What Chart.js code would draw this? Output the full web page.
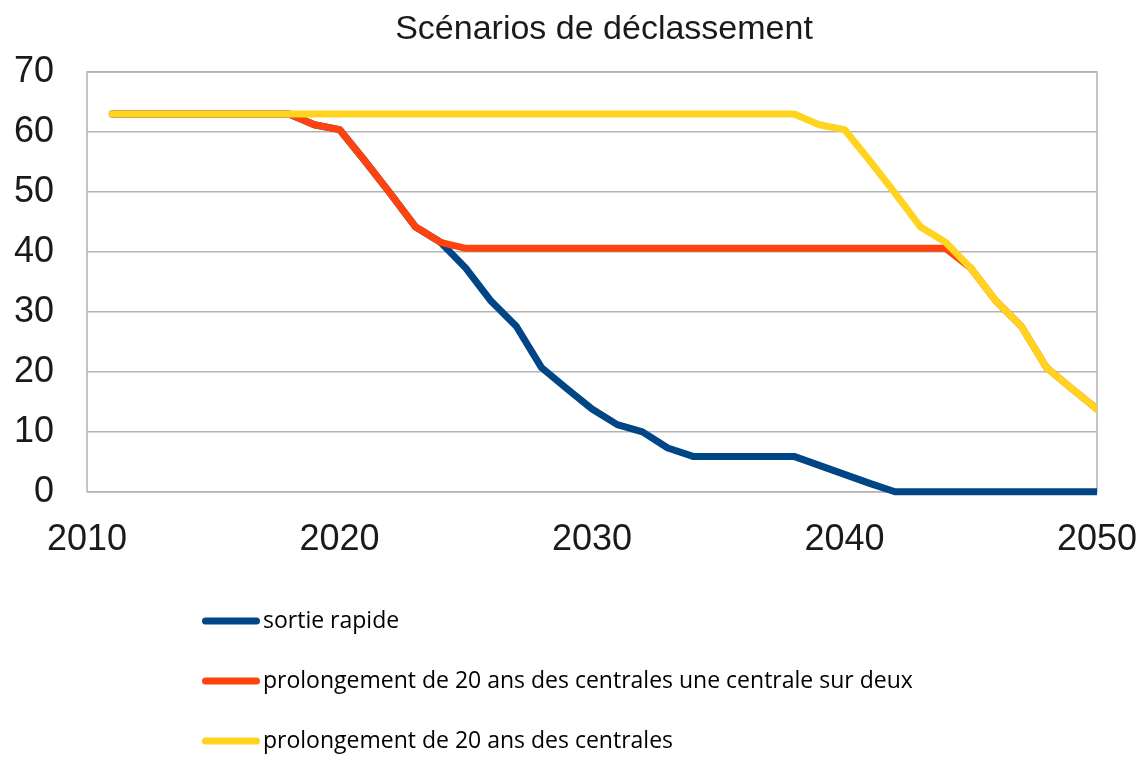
<!DOCTYPE html>
<html lang="fr">
<head>
<meta charset="utf-8">
<title>Scénarios de déclassement</title>
<script src="https://cdn.jsdelivr.net/npm/chart.js@4.4.1/dist/chart.umd.min.js"></script>
<style>
    html, body { margin:0; padding:0; background:#fff; }
    #wrap { width:1141px; height:780px; }
</style>
</head>
<body>
<div id="wrap"><canvas id="declassement" width="1141" height="780"></canvas></div>
<script>
// Years 2011..2050
const years = [2011,2012,2013,2014,2015,2016,2017,2018,2019,2020,
               2021,2022,2023,2024,2025,2026,2027,2028,2029,2030,
               2031,2032,2033,2034,2035,2036,2037,2038,2039,2040,
               2041,2042,2043,2044,2045,2046,2047,2048,2049,2050];

const sortieRapide = [63,63,63,63,63,63,63,63,61.2,60.4,
                      55.2,49.8,44.2,41.6,37.3,31.8,27.6,20.7,17.2,13.8,
                      11.2,10,7.3,5.9,5.9,5.9,5.9,5.9,4.4,2.9,
                      1.4,0,0,0,0,0,0,0,0,0];

const prolongUneSurDeux = [63,63,63,63,63,63,63,63,61.2,60.4,
                           55.2,49.8,44.2,41.6,40.6,40.6,40.6,40.6,40.6,40.6,
                           40.6,40.6,40.6,40.6,40.6,40.6,40.6,40.6,40.6,40.6,
                           40.6,40.6,40.6,40.6,37.3,31.8,27.6,20.7,17.2,13.8];

const prolongToutes = [63,63,63,63,63,63,63,63,63,63,
                       63,63,63,63,63,63,63,63,63,63,
                       63,63,63,63,63,63,63,63,61.2,60.4,
                       55.2,49.8,44.2,41.6,37.3,31.8,27.6,20.7,17.2,13.8];

const seriesNames = ['sortie rapide',
                     'prolongement de 20 ans des centrales une centrale sur deux',
                     'prolongement de 20 ans des centrales'];
const seriesValues = [sortieRapide, prolongUneSurDeux, prolongToutes];
const seriesColors = ['#004586', '#ff420e', '#ffd320'];
const xTicks = [2010, 2020, 2030, 2040, 2050];
const yTicks = [0, 10, 20, 30, 40, 50, 60, 70];
const chartTitle = 'Scénarios de déclassement';

const txt = '#1a1a1a';
const gridCol = '#b3b3b3';

const toPoints = vals => years.map((y, i) => ({x: y, y: vals[i]}));

const titlePlugin = {
    id: 'topTitle',
    afterDraw(chart) {
        const c = chart.ctx;
        c.save();
        c.font = '34px "Liberation Sans", Arial, sans-serif';
        c.fillStyle = txt;
        c.textAlign = 'center';
        c.textBaseline = 'alphabetic';
        c.fillText(chartTitle, 604, 39);
        c.restore();
    }
};

// box around the plot
const framePlugin = {
    id: 'frame',
    beforeDatasetsDraw(chart) {
        const {left, top, right, bottom} = chart.chartArea;
        const c = chart.ctx;
        c.save();
        c.strokeStyle = gridCol;
        c.lineWidth = 1.5;
        c.strokeRect(left, top, right - left, bottom - top);
        c.restore();
    }
};

// one legend entry per row, below the plot
const legendPlugin = {
    id: 'stackLegend',
    afterDraw(chart) {
        const c = chart.ctx;
        c.save();
        chart.data.datasets.forEach((ds, i) => {
            const y = 621 + i * 60;
            c.strokeStyle = ds.borderColor;
            c.lineWidth = 7;
            c.lineCap = 'round';
            c.beginPath(); c.moveTo(205.5, y); c.lineTo(256.5, y); c.stroke();
            c.fillStyle = '#000';
            c.font = '23px "Open Sans", sans-serif';
            c.textBaseline = 'alphabetic';
            c.textAlign = 'left';
            c.fillText(ds.label, 263, y + 7);
        });
        c.restore();
    }
};

new Chart(document.getElementById('declassement'), {
    type: 'line',
    data: {
        datasets: seriesValues.map((vals, i) => ({
            label: seriesNames[i], data: toPoints(vals),
            borderColor: seriesColors[i], backgroundColor: seriesColors[i],
            borderWidth: 7, pointRadius: 0, tension: 0, fill: false,
            borderCapStyle: 'round', borderJoinStyle: 'round',
            order: 3 - i,   // yellow on top, blue underneath
            clip: {left: 0, right: 0, top: 8, bottom: 8}
        }))
    },
    options: {
        responsive: false,
        animation: false,
        events: [],
        layout: { padding: {left: -19, right: 44, top: 72, bottom: 218} },
        plugins: { legend: {display: false}, title: {display: false}, tooltip: {enabled: false} },
        scales: {
            x: {
                type: 'linear', min: xTicks[0], max: xTicks[xTicks.length - 1],
                afterBuildTicks: s => { s.ticks = xTicks.map(v => ({value: v})); },
                // invisible tick marks give the vertical gap without widening the side overhang
                grid: {display: true, drawOnChartArea: false, drawTicks: true, tickLength: 27, tickColor: 'rgba(0,0,0,0)'},
                border: {display: false},
                ticks: {color: txt, padding: 0, maxRotation: 0, callback: v => String(v),
                        font: {family: '"Liberation Sans", Arial, sans-serif', size: 36}}
            },
            y: {
                min: yTicks[0], max: yTicks[yTicks.length - 1],
                afterBuildTicks: s => { s.ticks = yTicks.map(v => ({value: v})); },
                grid: {color: gridCol, lineWidth: 1.5, drawTicks: false},
                border: {display: false},
                ticks: {color: txt, padding: 33,
                        font: {family: '"Liberation Sans", Arial, sans-serif', size: 36}}
            }
        }
    },
    plugins: [framePlugin, titlePlugin, legendPlugin]
});
</script>
</body>
</html>
